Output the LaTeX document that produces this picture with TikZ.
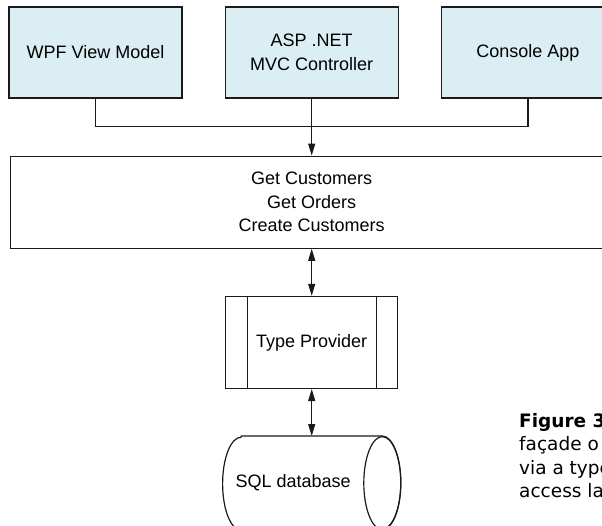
\documentclass[tikz,border=0pt]{standalone}
\usepackage{fontspec}
\setmainfont{Liberation Sans}
\newfontfamily\capfont{DejaVu Sans}
\usetikzlibrary{arrows.meta, shapes.geometric, positioning}
\definecolor{clientblue}{HTML}{DAEEF3}
\definecolor{linegray}{HTML}{1A1A1A}

\begin{document}
\begin{tikzpicture}[x=1pt, y=-1pt,
  node distance=47pt and 42pt,
  client/.style={rectangle, draw=linegray, fill=clientblue, line width=1.2pt,
                 font=\fontsize{18}{23.5}\selectfont, inner sep=0pt,
                 minimum width=173pt, minimum height=91pt, align=center},
  facade/.style={rectangle, draw=linegray, line width=1.2pt,
                 font=\fontsize{18}{23.5}\selectfont, inner sep=0pt,
                 minimum width=602pt, minimum height=92pt, align=center},
  provider/.style={rectangle, draw=linegray, line width=1.2pt,
                   font=\fontsize{18}{23.5}\selectfont, inner sep=0pt,
                   minimum width=172pt, minimum height=92pt, align=center},
  store/.style={rectangle, inner sep=0pt, outer sep=0.6pt,
                minimum width=177pt, minimum height=93pt},
  storetext/.style={font=\fontsize{18}{23.5}\selectfont, inner sep=0pt},
  caption/.style={font=\capfont\fontsize{18.5}{23.5}\selectfont, align=left,
                  anchor=north west, inner sep=0pt},
  link/.style={line width=1.2pt, draw=linegray},
  arr/.style={link, -{Triangle[length=12pt,width=7pt]}},
  darr/.style={link, {Triangle[length=12pt,width=7pt]}-{Triangle[length=12pt,width=7pt]}},
]
\useasboundingbox (0,0) rectangle (602,526);

%% CLIENTS
\node[client] (wpf) at (95.5,52.5) {WPF View Model};
\node[client, right=of wpf] (asp) {ASP .NET\\MVC Controller};
\node[client, right=of asp] (con) {Console App};

%% FACADE, PROVIDER, DATABASE
\node[facade, below=57pt of asp]  (ops) {Get Customers\\Get Orders\\Create Customers};
\node[provider, below=of ops]     (tp)  {Type Provider};
\node[store, below=of tp]         (db)  {};
\node[storetext] (dbtext) at ([xshift=-18.5pt]db.center) {SQL database};

%% Caption (cut off at the right edge)
\node[caption] (cap) at (519,413) {\textbf{Figure 3}\\façade o\\via a type\\access la};

%% Side bars of the provider box
\draw[link] ([xshift=22pt]tp.north west)  -- ([xshift=22pt]tp.south west);
\draw[link] ([xshift=-22pt]tp.north east) -- ([xshift=-22pt]tp.south east);

%% Cylinder outline
\draw[link] ([xshift=18.5pt]db.north west) -- ([xshift=-18.5pt]db.north east)
  arc[start angle=90, end angle=-90, x radius=18.5pt, y radius=46.5pt]
  -- ([xshift=18.5pt]db.south west)
  arc[start angle=270, end angle=90, x radius=18.5pt, y radius=46.5pt] -- cycle;
\draw[link] ([xshift=-18.5pt]db.east) ellipse[x radius=18.5pt, y radius=46.5pt];

%% Connectors
\draw[link] (wpf.south) -- ++(0,28) -| (con.south);
\draw[arr]  (asp.south) -- (ops.north);
\draw[darr] (ops.south) -- (tp.north);
\draw[darr] (tp.south)  -- (db.north);

\end{tikzpicture}
\end{document}
